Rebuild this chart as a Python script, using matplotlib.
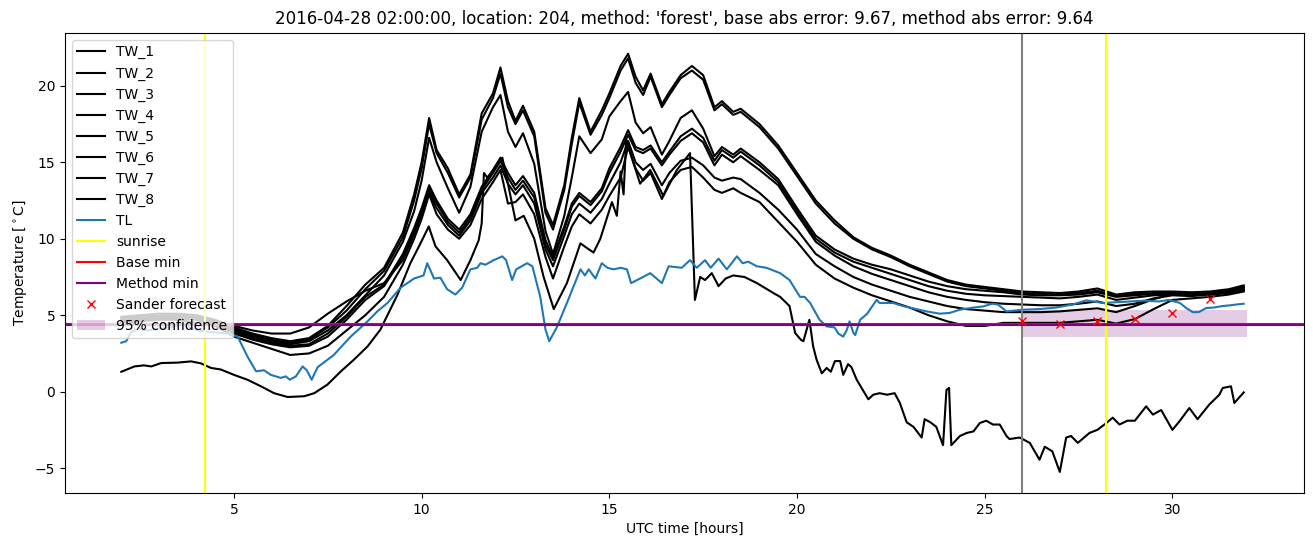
import numpy as np
import matplotlib
matplotlib.use("Agg")
import matplotlib.pyplot as plt

# --- data (UTC hours / degC) ---
hours = [2.0, 2.5, 3.0, 3.5, 4.0, 4.5, 5.0, 5.5, 6.0, 6.5, 7.0, 7.5, 8.0, 8.5, 9.0, 9.5,
         9.8, 10.0, 10.2, 10.4, 10.7, 11.0, 11.3, 11.6, 11.9, 12.1, 12.3, 12.5, 12.7, 13.0,
         13.3, 13.5, 13.8, 14.0, 14.2, 14.5, 14.8, 15.0, 15.3, 15.5, 15.7, 15.9, 16.1, 16.4,
         16.6, 16.9, 17.2, 17.5, 17.8, 18.0, 18.3, 18.5,
         19.0, 19.5, 20.0, 20.5, 21.0, 21.5, 22.0, 22.5, 23.0, 23.5, 24.0, 24.5, 25.0, 25.5,
         26.0, 26.5, 27.0, 27.5, 28.0, 28.5, 29.0, 29.5, 30.0, 30.5, 31.0, 31.5, 31.9]

tw_1 = [4.9, 5.0, 5.1, 5.1, 5.0, 4.7, 4.2, 3.8, 3.5, 3.3, 3.5, 4.3, 5.6, 7.0, 8.1, 10.4,
        12.9, 15.0, 17.9, 15.8, 14.6, 12.9, 14.2, 18.2, 19.5, 21.2,
        19.0, 17.7, 18.7, 17.0, 12.0, 10.9, 13.5, 16.6, 19.2, 17.0,
        18.4, 19.5, 21.3, 22.1, 20.6, 19.7, 20.8, 18.8, 19.6, 20.7,
        21.3, 20.7, 18.6, 19.0, 18.3, 18.5,
        17.5, 16.1, 14.3, 12.5, 11.2, 10.1, 9.4, 8.9, 8.3, 7.8, 7.3, 7.0, 6.85, 6.7,
        6.55, 6.5, 6.45, 6.55, 6.75, 6.35, 6.5, 6.55, 6.55, 6.5, 6.55, 6.7, 6.95]
tw_2 = [4.8, 4.9, 5.0, 5.0, 4.9, 4.6, 4.1, 3.7, 3.4, 3.2, 3.4, 4.2, 5.3, 6.7, 7.9, 10.1,
        12.5, 14.6, 17.5, 15.6, 14.3, 12.7, 14.0, 17.8, 19.2, 20.8,
        18.6, 17.5, 18.4, 16.7, 11.7, 10.6, 13.2, 16.2, 18.9, 16.8,
        18.1, 19.2, 21.0, 21.8, 20.2, 19.4, 20.6, 18.6, 19.4, 20.5,
        21.0, 20.4, 18.4, 18.8, 18.1, 18.3,
        17.3, 15.9, 14.1, 12.3, 11.0, 10.0, 9.3, 8.8, 8.2, 7.7, 7.2, 6.9, 6.75, 6.6,
        6.45, 6.4, 6.35, 6.45, 6.6, 6.25, 6.4, 6.45, 6.45, 6.4, 6.45, 6.6, 6.85]
tw_3 = [4.7, 4.8, 4.9, 4.9, 4.8, 4.5, 4.0, 3.6, 3.3, 3.1, 3.3, 4.0, 5.0, 6.3, 7.6, 9.8,
        11.8, 13.8, 16.6, 15.0, 13.3, 11.7, 13.4, 17.0, 18.6, 19.4,
        17.0, 16.0, 16.9, 14.9, 10.5, 9.0, 11.5, 14.0, 16.7, 15.6,
        16.5, 18.0, 19.0, 19.6, 17.6, 16.9, 17.3, 15.5, 16.4, 17.9,
        18.4, 17.2, 15.4, 16.0, 15.5, 15.9,
        15.0, 13.9, 12.0, 10.2, 9.3, 8.7, 8.3, 8.0, 7.6, 7.2, 6.9, 6.7, 6.6, 6.5,
        6.35, 6.3, 6.3, 6.35, 6.5, 6.2, 6.3, 6.4, 6.4, 6.35, 6.4, 6.55, 6.8]
tw_4 = [4.6, 4.8, 4.9, 4.9, 4.8, 4.5, 3.9, 3.5, 3.2, 3.0, 3.1, 3.8, 4.9, 6.2, 7.0, 9.0,
        10.7, 12.0, 13.5, 12.5, 11.3, 10.6, 11.6, 13.4, 14.5, 15.3,
        14.3, 13.5, 14.1, 13.0, 9.9, 8.8, 10.8, 12.3, 13.0, 12.4,
        13.3, 14.6, 16.0, 17.1, 16.0, 15.8, 16.1, 15.0, 15.7, 16.7,
        17.2, 16.6, 15.1, 15.8, 15.3, 15.7,
        14.8, 13.7, 11.8, 10.0, 9.1, 8.5, 8.1, 7.7, 7.3, 6.9, 6.6, 6.4, 6.3, 6.25,
        6.2, 6.15, 6.1, 6.2, 6.35, 6.0, 6.15, 6.3, 6.35, 6.3, 6.35, 6.5, 6.7]
tw_5 = [4.5, 4.7, 4.8, 4.8, 4.7, 4.4, 3.8, 3.4, 3.1, 2.9, 3.0, 3.6, 4.7, 6.0, 6.9, 8.8,
        10.5, 11.8, 13.3, 12.3, 11.1, 10.4, 11.4, 13.2, 14.3, 15.1,
        14.0, 13.2, 13.8, 12.7, 9.6, 8.6, 10.6, 12.1, 12.8, 12.2,
        13.1, 14.3, 15.7, 16.8, 15.8, 15.6, 15.9, 14.8, 15.5, 16.4,
        16.9, 16.3, 14.8, 15.5, 15.0, 15.4,
        14.5, 13.5, 11.6, 9.8, 8.9, 8.2, 7.7, 7.3, 6.9, 6.5, 6.2, 6.0, 5.85, 5.75,
        5.7, 5.65, 5.65, 5.75, 5.9, 5.6, 5.75, 6.1, 6.3, 6.25, 6.35, 6.45, 6.65]
tw_6 = [4.6, 4.8, 4.9, 5.0, 4.8, 4.5, 4.3, 4.0, 3.8, 3.8, 4.2, 5.1, 5.9, 6.6, 7.1, 8.6,
        10.3, 11.6, 13.1, 12.0, 10.9, 10.2, 11.2, 13.0, 14.0, 14.8,
        13.6, 12.9, 13.5, 12.3, 9.3, 8.2, 10.2, 11.6, 12.3, 11.7,
        12.6, 13.6, 15.0, 16.4, 15.0, 14.5, 14.9, 13.5, 14.3, 15.1,
        15.3, 14.8, 14.0, 13.8, 14.0, 13.9,
        13.0, 11.9, 10.6, 9.0, 8.2, 7.5, 7.0, 6.6, 6.2, 5.9, 5.6, 5.4, 5.3, 5.2,
        5.2, 5.2, 5.25, 5.35, 5.45, 5.2, 5.6, 6.05, 6.4, 6.35, 6.4, 6.5, 6.6]
tw_7 = [4.4, 4.6, 4.7, 4.7, 4.5, 4.3, 3.6, 3.2, 2.8, 2.4, 2.5, 3.0, 4.0, 5.0, 6.2, 8.3,
        10.0, 11.3, 12.9, 11.6, 10.6, 10.0, 10.9, 12.6, 13.7, 14.5,
        12.3, 12.4, 12.9, 11.6, 8.8, 7.4, 9.5, 10.8, 11.6, 11.0,
        11.9, 12.8, 14.0, 16.0, 14.6, 13.8, 14.3, 12.6, 13.7, 14.5,
        14.7, 14.0, 13.2, 13.0, 13.3, 13.0,
        12.4, 11.1, 9.8, 8.3, 7.4, 6.8, 6.3, 5.9, 5.5, 5.0, 4.6, 4.3, 4.3, 4.5,
        4.5, 4.5, 4.5, 4.6, 4.7, 4.45, 4.75, 5.4, 6.0, 6.1, 6.2, 6.35, 6.55]

tw_8_hours = [2.0, 2.35, 2.6, 2.8, 3.06, 3.5, 3.86, 4.12, 4.39, 4.65,
              5.0, 5.36, 5.72, 6.07, 6.43, 6.87, 7.14, 7.49, 7.85, 8.2,
              8.56, 8.9, 9.35, 9.7, 9.97, 10.19, 10.37, 10.68, 11.04, 11.3,
              11.52, 11.6, 11.66, 11.75, 11.95, 12.15, 12.3, 12.5, 12.72, 13.0,
              13.25, 13.52, 13.87, 14.23, 14.4, 14.58, 14.76, 15.07, 15.2, 15.3,
              15.38, 15.45, 15.65, 15.82, 16.09, 16.44, 16.8, 17.15, 17.28, 17.42,
              17.55, 17.73, 17.91, 18.1, 18.3, 18.6, 18.93, 19.37, 19.55, 19.8,
              19.95, 20.1, 20.17, 20.33, 20.43, 20.52, 20.66, 20.79, 20.9, 21.01,
              21.15, 21.23, 21.36, 21.45, 21.59, 21.9, 22.03, 22.2, 22.4, 22.6,
              22.74, 22.92, 23.1, 23.32, 23.4, 23.55, 23.71, 23.89, 23.98, 24.05,
              24.11, 24.34, 24.52, 24.7, 24.87, 25.04, 25.22, 25.4, 25.58, 25.66,
              25.93, 26.2, 26.46, 26.6, 26.8, 27.0, 27.17, 27.3, 27.48, 27.79,
              28.0, 28.19, 28.41, 28.59, 28.8, 29.0, 29.3, 29.48, 29.7, 30.0,
              30.2, 30.45, 30.67, 30.98, 31.25, 31.34, 31.56, 31.65, 31.9]
tw_8 = [1.3, 1.65, 1.72, 1.65, 1.87, 1.9, 1.98, 1.85, 1.55, 1.45,
        1.1, 0.78, 0.35, -0.1, -0.35, -0.3, -0.1, 0.46, 1.33, 2.1,
        2.96, 4.05, 6.3, 8.4, 9.7, 10.8, 9.5, 8.6, 7.3, 8.6,
        9.9, 11.0, 14.3, 14.0, 14.6, 15.3, 13.6, 11.2, 11.5, 10.0,
        7.5, 5.4, 7.1, 9.7, 9.4, 9.1, 10.0, 12.4, 11.5, 14.4,
        12.9, 16.5, 14.9, 13.6, 14.5, 12.8, 14.5, 15.6, 6.0, 7.5,
        7.3, 7.75, 6.9, 7.4, 7.6, 7.5, 7.1, 6.45, 6.2, 5.6,
        3.84, 3.4, 3.3, 4.7, 2.96, 2.1, 1.2, 1.55, 1.3, 2.0,
        2.0, 1.1, 1.8, 1.6, 0.78, -0.5, -0.2, -0.1, -0.2, -0.1,
        -0.74, -2.0, -2.3, -3.0, -1.8, -2.0, -2.3, -3.5, 0.1, 0.25,
        -3.5, -2.9, -2.7, -2.6, -2.05, -1.9, -2.15, -2.15, -2.9, -3.1,
        -3.0, -3.35, -4.45, -3.6, -3.9, -5.25, -3.0, -2.9, -3.35, -2.7,
        -2.5, -2.15, -1.7, -2.15, -1.9, -1.9, -0.96, -1.5, -1.2, -2.5,
        -1.9, -1.07, -1.8, -0.85, -0.2, 0.24, 0.35, -0.74, -0.05]

tl_hours = [2.0, 2.13, 2.26, 2.45, 2.7, 3.0, 3.3, 3.6, 3.85, 4.03,
            4.4, 4.83, 5.1, 5.36, 5.59, 5.8, 5.98, 6.25, 6.38, 6.49,
            6.65, 6.83, 6.94, 7.07, 7.23, 7.66, 8.11, 8.56, 8.82, 9.09,
            9.44, 9.8, 10.05, 10.15, 10.33, 10.5, 10.68, 10.9, 11.08, 11.3,
            11.48, 11.57, 11.7, 11.92, 12.15, 12.25, 12.41, 12.52, 12.81, 12.95,
            13.16, 13.3, 13.4, 13.6, 13.87, 14.05, 14.23, 14.35, 14.45, 14.63,
            14.8, 14.95, 15.11, 15.3, 15.47, 15.58, 15.82, 16.09, 16.4, 16.58,
            16.93, 17.15, 17.33, 17.55, 17.7, 17.91, 18.13, 18.4, 18.55, 18.7,
            18.93, 19.19, 19.55, 19.8, 20.08, 20.2, 20.35, 20.6, 20.79, 21.0,
            21.1, 21.23, 21.32, 21.4, 21.5, 21.55, 21.68, 21.87, 22.12, 22.2,
            22.56, 22.82, 23.45, 23.8, 24.07, 24.34, 24.7, 24.95, 25.2, 25.35,
            25.58, 26.02, 26.46, 26.9, 27.35, 27.7, 28.15, 28.5, 28.86, 29.25,
            29.65, 29.9, 30.2, 30.35, 30.54, 30.7, 30.9, 31.1, 31.34, 31.55,
            31.7, 31.9]
tl = [3.2, 3.3, 3.85, 4.15, 4.0, 4.1, 4.2, 4.4, 4.2, 4.0,
      3.9, 3.8, 3.6, 2.3, 1.33, 1.4, 1.1, 0.9, 1.0, 0.78,
      1.0, 1.65, 1.4, 0.78, 1.6, 2.4, 3.6, 4.6, 5.25, 5.8,
      6.8, 7.4, 7.6, 8.4, 7.4, 7.45, 6.7, 6.35, 6.8, 8.0,
      8.1, 8.4, 8.3, 8.6, 8.85, 8.6, 7.3, 8.0, 8.4, 8.2,
      6.2, 4.05, 3.3, 4.2, 5.8, 6.9, 8.0, 7.6, 8.0, 7.4,
      8.4, 8.1, 8.0, 8.1, 8.0, 7.1, 7.4, 7.75, 7.1, 8.2,
      8.1, 8.6, 8.1, 8.6, 8.1, 8.7, 8.0, 8.85, 8.4, 8.5,
      8.2, 8.1, 7.75, 7.3, 6.2, 6.2, 5.8, 4.7, 4.27, 4.2,
      3.8, 3.6, 4.0, 4.6, 3.85, 3.7, 4.7, 5.1, 6.0, 5.8,
      5.8, 5.6, 5.25, 5.1, 5.15, 5.36, 5.5, 5.57, 5.75, 5.7,
      5.25, 5.36, 5.4, 5.5, 5.7, 5.97, 5.8, 5.85, 5.9, 5.95,
      5.9, 6.0, 5.8, 5.5, 5.2, 5.2, 5.47, 5.5, 5.6, 5.65,
      5.7, 5.75]

sunrise = [4.23, 28.23]
forecast_start = 26.0
base_min = 4.45
method_min = 4.38
sander_hours = [26, 27, 28, 29, 30, 31]
sander_temp = [4.6, 4.42, 4.64, 4.75, 5.14, 6.06]
conf_hours = [26.0, 32.0]
conf_low = [3.6, 3.6]
conf_high = [5.36, 5.36]

tw_series = [tw_1, tw_2, tw_3, tw_4, tw_5, tw_6, tw_7]

fig, ax = plt.subplots(figsize=(13.13, 5.47), dpi=100)
fig.subplots_adjust(left=0.0495, right=0.993, top=0.94, bottom=0.099)

for i, vals in enumerate(tw_series):
    ax.plot(hours, vals, color='k', label=f'TW_{i + 1}')
ax.plot(tw_8_hours, tw_8, color='k', label='TW_8')
ax.plot(tl_hours, tl, color='C0', label='TL')

ax.axvline(sunrise[0], color='yellow', label='sunrise')
ax.axvline(sunrise[1], color='yellow')
ax.axvline(forecast_start, color='gray')
ax.axhline(base_min, color='red', label='Base min')
ax.axhline(method_min, color='purple', label='Method min')
ax.plot(sander_hours, sander_temp, 'x', color='red', label='Sander forecast')
ax.fill_between(conf_hours, conf_low, conf_high, color='purple', alpha=0.2,
                linewidth=0, label='95% confidence')

ax.set_xlabel('UTC time [hours]')
ax.set_ylabel(r'Temperature [$^\circ$C]')
ax.set_title("2016-04-28 02:00:00, location: 204, method: 'forest', "
             "base abs error: 9.67, method abs error: 9.64")
ax.legend(loc='upper left')

plt.savefig('out.png', dpi=100)
